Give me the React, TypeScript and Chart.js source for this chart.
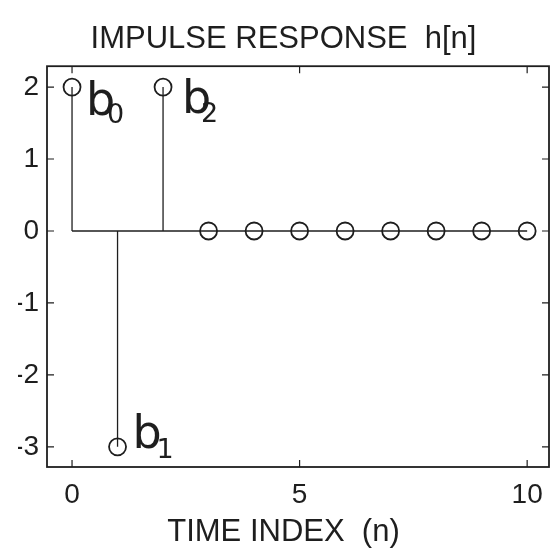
import { useEffect, useRef } from "react";
import { Chart, registerables } from "chart.js";

Chart.register(...registerables);

// ---- data ----
const nIndex = [0, 1, 2, 3, 4, 5, 6, 7, 8, 9, 10];
const hValues = [2, -3, 2, 0, 0, 0, 0, 0, 0, 0, 0];
const xTickValues = [0, 5, 10];
const yTickValues = [-3, -2, -1, 0, 1, 2];
const labelIndex = [0, 1, 2];
const labelBase = ["b", "b", "b"];
const labelSubscripts = ["0", "1", "2"];

const titleText = "IMPULSE RESPONSE  h[n]";
const xTitleText = "TIME INDEX  (n)";

// ---- styles ----
const INK = "#1e1e1e";
const FONT = "'Liberation Sans', Arial, Helvetica, sans-serif";
const HAND = "'DejaVu Sans', sans-serif";
// pixel offsets of handwritten labels from their circles: [dxBase, dyBase, dxSub, dySub]
const labelOffsets = [
  [14, 28, 35, 36],
  [15, 1, 39, 11],
  [19, 26, 38, 35],
];

const decor = {
  id: "stemDecor",
  afterDraw(chart: any) {
    const { ctx, chartArea: a, scales } = chart;
    const xs = scales.x;
    const ys = scales.y;
    ctx.save();
    ctx.strokeStyle = INK;
    ctx.lineWidth = 1.8;
    ctx.strokeRect(a.left, a.top, a.right - a.left, a.bottom - a.top);
    const tl = 7;
    ctx.lineWidth = 1.2;
    ctx.beginPath();
    xTickValues.forEach((v) => {
      const p = xs.getPixelForValue(v);
      ctx.moveTo(p, a.bottom);
      ctx.lineTo(p, a.bottom - tl);
      ctx.moveTo(p, a.top);
      ctx.lineTo(p, a.top + tl);
    });
    yTickValues.forEach((v) => {
      const p = ys.getPixelForValue(v);
      ctx.moveTo(a.left, p);
      ctx.lineTo(a.left + tl, p);
      ctx.moveTo(a.right, p);
      ctx.lineTo(a.right - tl, p);
    });
    ctx.stroke();

    ctx.fillStyle = INK;
    ctx.textAlign = "left";
    ctx.textBaseline = "alphabetic";
    labelIndex.forEach((n, i) => {
      const px = xs.getPixelForValue(nIndex[n]);
      const py = ys.getPixelForValue(hValues[n]);
      const [dxb, dyb, dxs, dys] = labelOffsets[i];
      ctx.font = `46px ${HAND}`;
      ctx.fillText(labelBase[i], px + dxb, py + dyb);
      ctx.font = `27px ${HAND}`;
      ctx.fillText(labelSubscripts[i], px + dxs, py + dys);
    });
    ctx.restore();
  },
};

export default function App() {
  const ref = useRef<HTMLCanvasElement | null>(null);

  useEffect(() => {
    if (!ref.current) return;
    const stemSets = nIndex.map((n, i) => ({
      type: "line" as const,
      data: [
        { x: n, y: 0 },
        { x: n, y: hValues[i] },
      ],
      showLine: true,
      borderColor: INK,
      borderWidth: 1.3,
      pointRadius: 0,
      fill: false,
    }));
    const chart = new Chart(ref.current, {
      type: "scatter",
      data: {
        datasets: [
          {
            type: "line" as const,
            data: [
              { x: nIndex[0], y: 0 },
              { x: nIndex[nIndex.length - 1], y: 0 },
            ],
            showLine: true,
            borderColor: INK,
            borderWidth: 1.3,
            pointRadius: 0,
            fill: false,
          } as any,
          ...stemSets,
          {
            data: nIndex.map((n, i) => ({ x: n, y: hValues[i] })),
            pointStyle: "circle",
            pointRadius: 8.5,
            pointBackgroundColor: "rgba(0,0,0,0)",
            pointBorderColor: INK,
            pointBorderWidth: 1.8,
            showLine: false,
          },
        ],
      },
      options: {
        animation: false,
        responsive: true,
        maintainAspectRatio: false,
        layout: { autoPadding: false, padding: { left: 18, right: 4, top: 0, bottom: 0 } },
        plugins: {
          legend: { display: false },
          tooltip: { enabled: false },
          title: {
            display: true,
            text: titleText,
            color: INK,
            font: { family: FONT, size: 31, weight: "normal" },
            padding: { top: 21, bottom: 8 },
          },
          subtitle: {
            display: true,
            position: "bottom",
            text: xTitleText,
            color: INK,
            font: { family: FONT, size: 31, weight: "normal", lineHeight: 1.0 },
            padding: { top: 0, bottom: 2 },
          },
        },
        scales: {
          x: {
            type: "linear",
            min: -0.55,
            max: 10.48,
            afterBuildTicks: (s: any) => {
              s.ticks = xTickValues.map((v) => ({ value: v }));
            },
            afterFit: (s: any) => {
              s.height = 50;
              s.paddingLeft = 0;
              s.paddingRight = 0;
            },
            grid: { display: false, drawTicks: false },
            border: { display: false },
            ticks: {
              color: INK,
              font: { family: FONT, size: 28 },
              padding: 11,
              maxRotation: 0,
            },
          },
          y: {
            type: "linear",
            min: -3.28,
            max: 2.29,
            afterBuildTicks: (s: any) => {
              s.ticks = yTickValues.map((v) => ({ value: v }));
            },
            afterFit: (s: any) => {
              s.width = 29;
              s.paddingTop = 0;
              s.paddingBottom = 0;
            },
            grid: { display: false, drawTicks: false },
            border: { display: false },
            ticks: {
              color: INK,
              font: { family: FONT, size: 28 },
              padding: 8,
            },
          },
        },
      },
      plugins: [decor],
    } as any);
    return () => chart.destroy();
  }, []);

  return (
    <div
      style={{
        position: "fixed",
        left: 0,
        top: 0,
        width: 553,
        height: 550,
        background: "#ffffff",
      }}
    >
      <canvas ref={ref} />
    </div>
  );
}
